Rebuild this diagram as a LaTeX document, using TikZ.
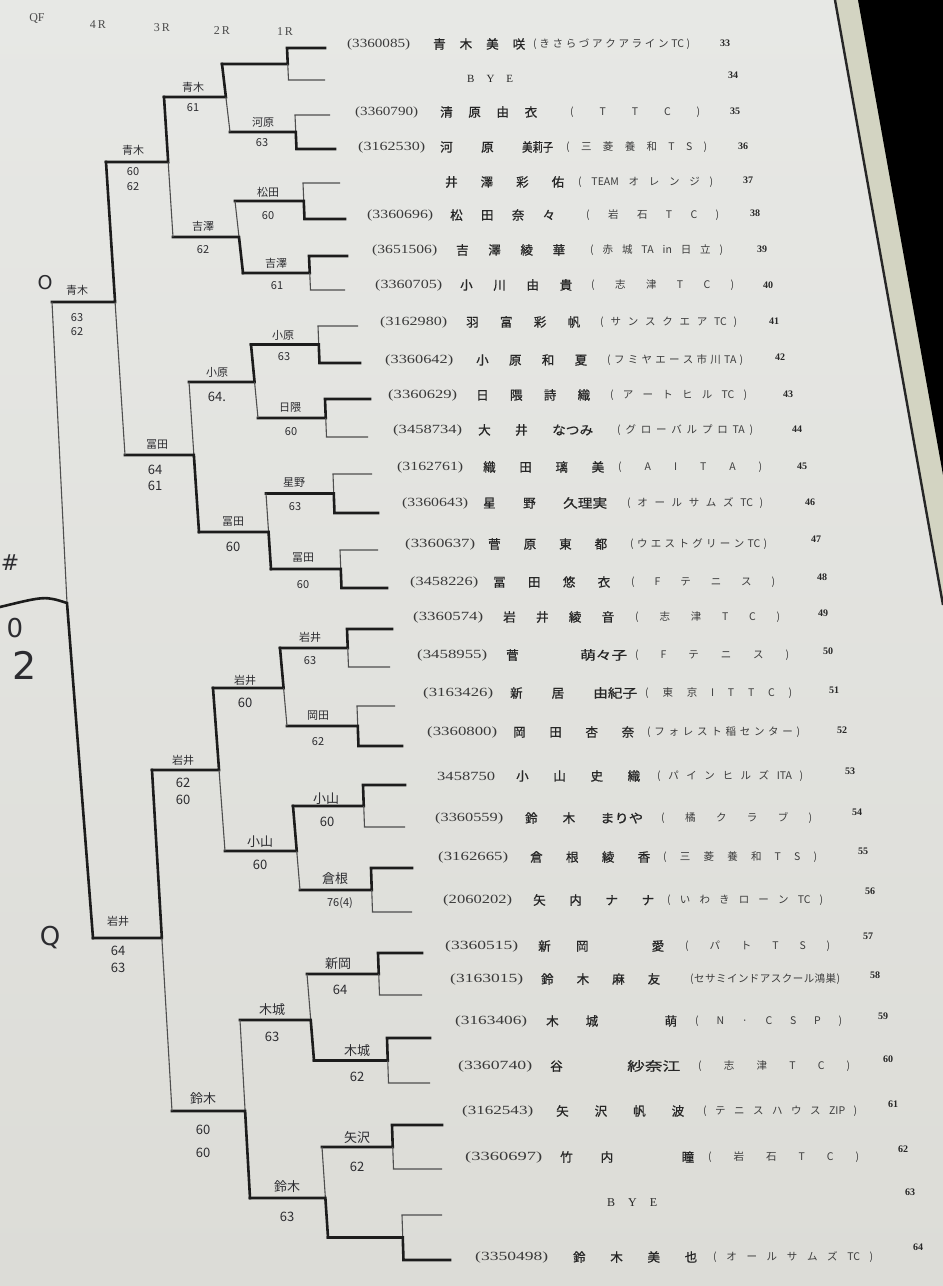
\documentclass[tikz,border=0pt]{standalone}
\usepackage{fontspec}
\usepackage{graphicx}
\setmainfont{Liberation Serif}
\newfontfamily\jp{Noto Sans CJK JP}
\newfontfamily\jpn[FakeBold=0.8]{Noto Sans CJK JP}
\newfontfamily\hand{DejaVu Sans}
\definecolor{paperT}{HTML}{E7E8E5}
\definecolor{paperB}{HTML}{DCDCD7}
\definecolor{ink}{HTML}{1C1C1C}
\definecolor{thinink}{HTML}{4E4E4E}
\definecolor{prt}{HTML}{262626}
\definecolor{idcol}{HTML}{3A3A3A}
\definecolor{pencol}{HTML}{2C2C30}
\definecolor{hdrcol}{HTML}{4A4A4A}
\definecolor{strip}{HTML}{D3D4C2}
\newcommand\idfont{\fontsize{12.5}{14}\selectfont}
\newcommand\namefont{\jpn\fontsize{12.5}{14}\selectfont}
\newcommand\clubfont{\jp\fontsize{10.5}{12}\selectfont}
\makeatletter
\newcommand\sprd[1]{\let\sprd@sep\relax\@tfor\sprd@c:=#1\do{\sprd@sep\sprd@c\let\sprd@sep\hfil}}
\makeatother
\newcommand\cgrp[2]{\resizebox{#1pt}{\height}{#2}}
% rows
\newcommand\pid[5]{\node[idtxt] (#1id) at (#3,#2) {\resizebox{#4pt}{\height}{\idfont #5}};}
\newcommand\pnm[5]{\node[txt] (#1nm) at (#3,#2) {\makebox[#4pt][s]{\namefont #5}};}
\newcommand\pcl[5]{\node[clubtxt] (#1cl) at (#3,#2) {\makebox[#4pt][s]{\clubfont\sprd{#5}}};}
\newcommand\pno[4]{\node[numtxt] (#1no) at (#3,#2) {#4};}
% first round match: tag, xv, yt, yb, xrt, xrb, xl, winner
\newcommand\bkf[8]{%
  \pgfmathsetmacro\bkym{(#3+#4)/2}%
  \coordinate (#1t) at (#2,#3);
  \coordinate (#1b) at (#2+1.5,#4);
  \coordinate (#1m) at (#2+0.75,\bkym);
  \coordinate (#1rt) at (#5,#3);
  \coordinate (#1rb) at (#6,#4);
  \coordinate (#1l) at (#7,\bkym);
  \ifx t#8
    \draw[thickln] (#1rt) -- (#1t) -- (#1m) -- (#1l);
    \draw[thinln] (#1m) -- (#1b) -- (#1rb);
  \else
    \draw[thinln] (#1m) -- (#1t) -- (#1rt);
    \draw[thickln] (#1rb) -- (#1b) -- (#1m) -- (#1l);
  \fi}
% later round: tag, xt, yt, xb, yb, ym, xl, winner
\newcommand\bkr[8]{%
  \pgfmathsetmacro\bkxm{#2+(#4-#2)*(#6-#3)/(#5-#3)}%
  \coordinate (#1t) at (#2,#3);
  \coordinate (#1b) at (#4,#5);
  \coordinate (#1m) at (\bkxm,#6);
  \coordinate (#1l) at (#7,#6);
  \ifx t#8
    \draw[thickln] (#1t) -- (#1m) -- (#1l);
    \draw[thinln] (#1m) -- (#1b);
  \else
    \draw[thinln] (#1t) -- (#1m);
    \draw[thickln] (#1b) -- (#1m) -- (#1l);
  \fi}
\begin{document}
\begin{tikzpicture}[x=1pt,y=-1pt,
  thinln/.style={draw=thinink,line width=1.1pt},
  thickln/.style={draw=ink,line width=2.6pt,line join=miter,line cap=rect},
  txt/.style={inner sep=0pt,anchor=west,text=prt},
  idtxt/.style={txt,text=idcol},
  clubtxt/.style={txt,text=prt!90!white},
  numtxt/.style={inner sep=0pt,text=prt,font=\bfseries\fontsize{10}{12}\selectfont},
  pen/.style={inner sep=0pt,text=pencol,font=\jp\fontsize{11}{12}\selectfont},
  penb/.style={inner sep=0pt,text=pencol,font=\jp\fontsize{13}{14}\selectfont},
  hdr/.style={inner sep=0pt,text=hdrcol,font=\fontsize{12}{13}\selectfont}]
\useasboundingbox (0,0) rectangle (943,1286);
\shade[top color=paperT,bottom color=paperB] (0,0) rectangle (943,1286);
% right edge of the sheet
\fill[strip] (835,0) -- (943,0) -- (943,605) -- cycle;
\fill[black] (858,0) -- (943,0) -- (943,475) -- cycle;
\draw[line width=2.4pt,black!85] (835,0) -- (943,605);

% header
\node[hdr] (hqf) at (37,18) {QF};
\node[hdr] (h4) at (98,25) {4\,R};
\node[hdr] (h3) at (162,28) {3\,R};
\node[hdr] (h2) at (222,31) {2\,R};
\node[hdr] (h1) at (285,32) {1\,R};

% ---------- bracket ----------
\bkf{m1}{287}{48}{80}{325}{325}{222}{t}
\bkf{m2}{295}{115}{149}{330}{335}{230}{b}
\bkf{m3}{303}{183}{219}{340}{345}{235}{b}
\bkf{m4}{309}{256}{290}{347}{345}{243}{t}
\bkf{m5}{318}{326}{363}{358}{360}{251}{b}
\bkf{m6}{325}{399}{437}{370}{368}{258}{t}
\bkf{m7}{333}{474}{513}{372}{378}{266}{b}
\bkf{m8}{340}{550}{588}{378}{387}{271}{b}
\bkf{m9}{347}{629}{667}{392}{390}{280}{t}
\bkf{m10}{357}{706}{746}{395}{402}{287}{b}
\bkf{m11}{363}{785}{827}{405}{405}{293}{t}
\bkf{m12}{371}{868}{912}{412}{412}{300}{t}
\bkf{m13}{378}{953}{995}{422}{422}{307}{t}
\bkf{m14}{387}{1038}{1083}{430}{430}{314}{t}
\bkf{m15}{392}{1125}{1169}{442}{442}{322}{t}
\bkf{m16}{402}{1215}{1260}{442}{450}{328}{b}

\bkr{r2a}{222}{64}{230}{132}{97}{164}{t}
\bkr{r2b}{235}{201}{243}{273}{237}{173}{b}
\bkr{r2c}{251}{344.5}{258}{418}{382}{189}{t}
\bkr{r2d}{266}{493.5}{271}{569}{532}{199}{b}
\bkr{r2e}{280}{648}{287}{726}{688}{213}{t}
\bkr{r2f}{293}{806}{300}{890}{851}{225}{t}
\bkr{r2g}{307}{974}{314}{1060.5}{1020}{240}{b}
\bkr{r2h}{322}{1147}{328}{1237.5}{1198}{250}{b}

\bkr{r3a}{164}{97}{173}{237}{162}{106}{t}
\bkr{r3b}{189}{382}{199}{532}{455}{125}{b}
\bkr{r3c}{213}{688}{225}{851}{770}{152}{t}
\bkr{r3d}{240}{1020}{250}{1198}{1111}{172}{b}

\bkr{r4a}{106}{162}{125}{455}{302}{52}{t}
\bkr{r4b}{152}{770}{172}{1111}{938}{93}{t}

\coordinate (qft) at (52,302);
\coordinate (qfm) at (67,603);
\coordinate (qfb) at (93,938);
\coordinate (qfl) at (0,607);
\draw[thinln] (qft) -- (qfm);
\draw[thickln] (qfb) -- (qfm) .. controls (45,596) .. (qfl);

% ---------- handwritten marks ----------
\node[pen,font=\hand\fontsize{22}{22}\selectfont] (hash) at (10,563) {\#};
\node[pen,font=\hand\fontsize{26}{26}\selectfont] (zero) at (15,628) {0};
\node[pen,font=\hand\fontsize{38}{38}\selectfont] (two) at (25,665) {2};
\node[pen,font=\hand\fontsize{19}{19}\selectfont] (qtop) at (45,283) {O};
\node[pen,font=\hand\fontsize{26}{26}\selectfont] (qbot) at (50,938) {Q};

% ---------- handwritten winners and scores ----------
\node[pen] (m2w) at (263,122) {河原};  \node[pen] (m2s) at (262,143) {63};
\node[pen] (m3w) at (268,192) {松田};  \node[pen] (m3s) at (268,216) {60};
\node[pen] (m4w) at (276,263) {吉澤};  \node[pen] (m4s) at (277,286) {61};
\node[pen] (m5w) at (283,335) {小原};  \node[pen] (m5s) at (284,357) {63};
\node[pen] (m6w) at (290,408) {日隈};  \node[pen] (m6s) at (291,432) {60};
\node[pen] (m7w) at (294,483) {星野};  \node[pen] (m7s) at (295,507) {63};
\node[pen] (m8w) at (303,558) {冨田};  \node[pen] (m8s) at (303,585) {60};
\node[pen] (m9w) at (310,637) {岩井};  \node[pen] (m9s) at (310,661) {63};
\node[pen] (m10w) at (318,716) {岡田}; \node[pen] (m10s) at (318,742) {62};
\node[penb] (m11w) at (326,799) {小山}; \node[penb] (m11s) at (327,822) {60};
\node[penb] (m12w) at (335,879) {倉根}; \node[pen] (m12s) at (340,903) {76(4)};
\node[penb] (m13w) at (338,964) {新岡}; \node[penb] (m13s) at (340,990) {64};
\node[penb] (m14w) at (357,1051) {木城}; \node[penb] (m14s) at (357,1077) {62};
\node[penb] (m15w) at (357,1138) {矢沢}; \node[penb] (m15s) at (357,1167) {62};

\node[pen] (r2aw) at (193,87) {青木};  \node[pen] (r2as) at (193,108) {61};
\node[pen] (r2bw) at (203,226) {吉澤};  \node[pen] (r2bs) at (203,250) {62};
\node[pen] (r2cw) at (217,372) {小原};  \node[penb] (r2cs) at (217,397) {64.};
\node[pen] (r2dw) at (233,522) {冨田};  \node[penb] (r2ds) at (233,547) {60};
\node[pen] (r2ew) at (245,680) {岩井};  \node[penb] (r2es) at (245,703) {60};
\node[penb] (r2fw) at (260,842) {小山}; \node[penb] (r2fs) at (260,865) {60};
\node[penb] (r2gw) at (272,1010) {木城}; \node[penb] (r2gs) at (272,1037) {63};
\node[penb] (r2hw) at (287,1187) {鈴木}; \node[penb] (r2hs) at (287,1217) {63};

\node[pen] (r3aw) at (133,150) {青木};  \node[pen] (r3as) at (133,172) {60};  \node[pen] (r3at) at (133,187) {62};
\node[pen] (r3bw) at (157,445) {冨田};  \node[penb] (r3bs) at (155,470) {64}; \node[penb] (r3bt) at (155,486) {61};
\node[pen] (r3cw) at (183,760) {岩井};  \node[penb] (r3cs) at (183,783) {62}; \node[penb] (r3ct) at (183,800) {60};
\node[penb] (r3dw) at (203,1099) {鈴木}; \node[penb] (r3ds) at (203,1130) {60}; \node[penb] (r3dt) at (203,1153) {60};

\node[pen] (r4aw) at (77,290) {青木};  \node[pen] (r4as) at (77,318) {63};  \node[pen] (r4at) at (77,332) {62};
\node[pen] (r4bw) at (118,921) {岩井}; \node[penb] (r4bs) at (118,951) {64}; \node[penb] (r4bt) at (118,968) {63};

% ---------- printed entries ----------
\pid{r33}{44}{347}{63}{(3360085)}
\pnm{r33}{44}{433}{92}{青\hfil 木\hfil 美\hfil 咲}
\pcl{r33}{44}{533}{157}{(きさらづアクアライン{TC})}
\pno{r33}{43}{725}{33}

\node[txt] (r34bye) at (467,79) {\makebox[46pt][s]{\fontsize{11}{12}\selectfont B\hfil Y\hfil E}};
\pno{r34}{75}{733}{34}

\pid{r35}{112}{355}{63}{(3360790)}
\pnm{r35}{112}{440}{97}{清\hfil 原\hfil 由\hfil 衣}
\pcl{r35}{112}{570}{130}{(TTC)}
\pno{r35}{111}{735}{35}

\pid{r36}{147}{358}{67}{(3162530)}
\pnm{r36}{147}{440}{113}{河\hfil 原\hfil\cgrp{31}{美莉子}}
\pcl{r36}{147}{566}{141}{(三菱養和TS)}
\pno{r36}{146}{743}{36}

\pnm{r37}{182}{445}{119}{井\hfil 澤\hfil 彩\hfil 佑}
\pcl{r37}{182}{578}{135}{({TEAM}オレンジ)}
\pno{r37}{180}{748}{37}

\pid{r38}{215}{367}{66}{(3360696)}
\pnm{r38}{215}{450}{105}{松\hfil 田\hfil 奈\hfil 々}
\pcl{r38}{215}{586}{133}{(岩石TC)}
\pno{r38}{213}{755}{38}

\pid{r39}{250}{372}{65}{(3651506)}
\pnm{r39}{250}{456}{109}{吉\hfil 澤\hfil 綾\hfil 華}
\pcl{r39}{250}{590}{133}{(赤城{TA}{in}日立)}
\pno{r39}{249}{762}{39}

\pid{r40}{285}{375}{67}{(3360705)}
\pnm{r40}{285}{460}{112}{小\hfil 川\hfil 由\hfil 貴}
\pcl{r40}{285}{591}{143}{(志津TC)}
\pno{r40}{285}{768}{40}

\pid{r41}{322}{380}{67}{(3162980)}
\pnm{r41}{322}{466}{114}{羽\hfil 富\hfil 彩\hfil 帆}
\pcl{r41}{322}{600}{137}{(サンスクエア{TC})}
\pno{r41}{321}{774}{41}

\pid{r42}{360}{385}{68}{(3360642)}
\pnm{r42}{360}{476}{111}{小\hfil 原\hfil 和\hfil 夏}
\pcl{r42}{360}{607}{136}{(フミヤエース市川{TA})}
\pno{r42}{357}{780}{42}

\pid{r43}{395}{388}{69}{(3360629)}
\pnm{r43}{395}{476}{114}{日\hfil 隈\hfil 詩\hfil 織}
\pcl{r43}{395}{610}{137}{(アートヒル{TC})}
\pno{r43}{394}{788}{43}

\pid{r44}{430}{393}{69}{(3458734)}
\pnm{r44}{430}{478}{115}{大\hfil 井\hfil\cgrp{41}{なつみ}}
\pcl{r44}{430}{617}{136}{(グローバルプロ{TA})}
\pno{r44}{429}{797}{44}

\pid{r45}{467}{397}{66}{(3162761)}
\pnm{r45}{467}{483}{121}{織\hfil 田\hfil 璃\hfil 美}
\pcl{r45}{467}{618}{144}{(AITA)}
\pno{r45}{466}{802}{45}

\pid{r46}{503}{402}{66}{(3360643)}
\pnm{r46}{503}{483}{124}{星\hfil 野\hfil\cgrp{44}{久理実}}
\pcl{r46}{503}{627}{136}{(オールサムズ{TC})}
\pno{r46}{502}{810}{46}

\pid{r47}{544}{405}{70}{(3360637)}
\pnm{r47}{544}{488}{119}{菅\hfil 原\hfil 東\hfil 都}
\pcl{r47}{544}{630}{137}{(ウエストグリーン{TC})}
\pno{r47}{539}{816}{47}

\pid{r48}{582}{410}{68}{(3458226)}
\pnm{r48}{582}{493}{117}{冨\hfil 田\hfil 悠\hfil 衣}
\pcl{r48}{582}{631}{144}{(Fテニス)}
\pno{r48}{577}{822}{48}

\pid{r49}{617}{413}{70}{(3360574)}
\pnm{r49}{617}{503}{111}{岩\hfil 井\hfil 綾\hfil 音}
\pcl{r49}{617}{635}{145}{(志津TC)}
\pno{r49}{613}{823}{49}

\pid{r50}{655}{417}{70}{(3458955)}
\pnm{r50}{655}{506}{121}{菅\hfil\cgrp{47}{萌々子}}
\pcl{r50}{655}{635}{154}{(Fテニス)}
\pno{r50}{651}{828}{50}

\pid{r51}{693}{423}{70}{(3163426)}
\pnm{r51}{693}{510}{127}{新\hfil 居\hfil\cgrp{44}{由紀子}}
\pcl{r51}{693}{645}{147}{(東京ITTC)}
\pno{r51}{690}{834}{51}

\pid{r52}{732}{427}{70}{(3360800)}
\pnm{r52}{732}{513}{121}{岡\hfil 田\hfil 杏\hfil 奈}
\pcl{r52}{732}{647}{153}{(フォレスト稲センター)}
\pno{r52}{730}{842}{52}

\pid{r53}{776}{437}{58}{3458750}
\pnm{r53}{776}{516}{124}{小\hfil 山\hfil 史\hfil 織}
\pcl{r53}{776}{657}{146}{(パインヒルズ{ITA})}
\pno{r53}{771}{850}{53}

\pid{r54}{818}{435}{68}{(3360559)}
\pnm{r54}{818}{525}{118}{鈴\hfil 木\hfil\cgrp{43}{まりや}}
\pcl{r54}{818}{661}{151}{(橘クラブ)}
\pno{r54}{812}{857}{54}

\pid{r55}{857}{438}{70}{(3162665)}
\pnm{r55}{857}{530}{120}{倉\hfil 根\hfil 綾\hfil 香}
\pcl{r55}{857}{663}{154}{(三菱養和TS)}
\pno{r55}{851}{863}{55}

\pid{r56}{900}{443}{69}{(2060202)}
\pnm{r56}{900}{533}{121}{矢\hfil 内\hfil ナ\hfil ナ}
\pcl{r56}{900}{667}{156}{(いわきローン{TC})}
\pno{r56}{891}{870}{56}

\pid{r57}{946}{445}{73}{(3360515)}
\pnm{r57}{946}{538}{126}{新\hfil 岡\hfil\phantom{愛}\hfil 愛}
\pcl{r57}{946}{685}{145}{(パトTS)}
\pno{r57}{936}{868}{57}

\pid{r58}{979}{450}{73}{(3163015)}
\pnm{r58}{979}{541}{119}{鈴\hfil 木\hfil 麻\hfil 友}
\pcl{r58}{979}{690}{150}{(セサミインドアスクール鴻巣)}
\pno{r58}{975}{875}{58}

\pid{r59}{1021}{455}{72}{(3163406)}
\pnm{r59}{1021}{546}{131}{木\hfil 城\hfil\phantom{萌}\hfil 萌}
\pcl{r59}{1021}{695}{147}{(N·CSP)}
\pno{r59}{1016}{883}{59}

\pid{r60}{1066}{458}{74}{(3360740)}
\pnm{r60}{1066}{550}{130}{谷\hfil\cgrp{53}{紗奈江}}
\pcl{r60}{1066}{698}{152}{(志津TC)}
\pno{r60}{1059}{888}{60}

\pid{r61}{1111}{462}{71}{(3162543)}
\pnm{r61}{1111}{556}{128}{矢\hfil 沢\hfil 帆\hfil 波}
\pcl{r61}{1111}{703}{154}{(テニスハウス{ZIP})}
\pno{r61}{1104}{893}{61}

\pid{r62}{1157}{465}{77}{(3360697)}
\pnm{r62}{1157}{560}{134}{竹\hfil 内\hfil\phantom{瞳}\hfil 瞳}
\pcl{r62}{1157}{708}{151}{(岩石TC)}
\pno{r62}{1149}{903}{62}

\node[txt] (r63bye) at (607,1203) {\makebox[50pt][s]{\fontsize{12}{13}\selectfont B\hfil Y\hfil E}};
\pno{r63}{1192}{910}{63}

\pid{r64}{1257}{475}{73}{(3350498)}
\pnm{r64}{1257}{573}{124}{鈴\hfil 木\hfil 美\hfil 也}
\pcl{r64}{1257}{713}{160}{(オールサムズ{TC})}
\pno{r64}{1247}{918}{64}
\end{tikzpicture}
\end{document}
